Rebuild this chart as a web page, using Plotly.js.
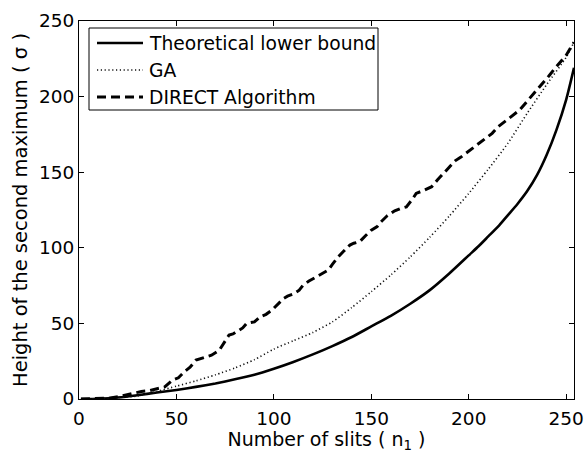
<!DOCTYPE html>
<html>
<head>
<meta charset="utf-8">
<script src="https://cdn.plot.ly/plotly-3.0.1.min.js"></script>
<style>html,body{margin:0;padding:0;background:#fff;}#chart{width:587px;height:453px;}</style>
</head>
<body>
<div id="chart"></div>
<script>
// Theoretical lower bound
const boundX = [1,10,20,30,40,50,60,70,80,90,100,110,120,130,140,150,160,170,180,190,200,205,210,215,220,225,230,235,240,245,250,254];
const boundY = [0,0.2,1,2.5,4.3,6,8,10.3,13,16,20,24.5,29.5,35,41,48,55,63,72,83,95,101,107.5,114,121.5,129,137.5,148,161.5,178,198,219];

// GA
const gaX = [1,10,20,30,40,50,60,70,80,90,100,110,120,130,140,150,160,170,180,190,200,210,220,230,240,250,254];
const gaY = [0,0.3,1,2,5,8.5,12,16,20.5,26,33,38.5,44,51,60.5,71,82,94,107,121,136,152,169,189,208,226,236];

// DIRECT Algorithm
const directX = [1,15,22,27,32,36,41,44,48,51,54,57,60,63,65,68,72,75,77,79,81,84,86,90,93,96,99,102,105,107,110,113,115,118,122,125,128,130,133,136,139,141,144,147,150,153,155,158,162,165,168,171,173,177,181,184,187,190,193,196,198,201,205,209,212,215,219,222,226,229,232,235,238,241,244,247,250,254];
const directY = [0,0.5,2,3.5,5,5.5,7,8,12.5,14,18,21,25.7,27,28,29,32.3,38,42.3,43,44.5,47,50,51,54.4,56,58.8,63,66.5,68,69.5,72,75.3,78,80.8,83,85.3,89,94,98,101.8,103,104,108,111.7,114,117.2,121,124.5,126,127.1,132,136,138,140.4,145,149.2,153,157.5,160,162,164.5,169,172.5,175.7,180,184,187,191,195.5,199.9,204,208.7,213.5,218.3,222.5,227.4,236];

const xTicks = [0,50,100,150,200,250];
const yTicks = [0,50,100,150,200,250];
const seriesNames = ['Theoretical lower bound', 'GA', 'DIRECT Algorithm'];

const FONT = 'DejaVu Sans, Arial, sans-serif';
const W = 587, H = 453;
const M = {l: 79, r: 13, t: 21, b: 54};
const PW = W - M.l - M.r, PH = H - M.t - M.b;
const px2x = p => (p - M.l) / PW;
const py2y = p => (H - M.b - p) / PH;

const styles = [
  {color: '#000', width: 2.6},
  {color: '#111', width: 1.6, dash: '1.2px,2.6px'},
  {color: '#000', width: 3, dash: '9px,5px'}
];

const traces = [
  {x: boundX, y: boundY, name: seriesNames[0], mode: 'lines',
   line: Object.assign({shape: 'spline', smoothing: 0.6}, styles[0])},
  {x: gaX, y: gaY, name: seriesNames[1], mode: 'lines',
   line: Object.assign({shape: 'spline', smoothing: 0.6}, styles[1])},
  {x: directX, y: directY, name: seriesNames[2], mode: 'lines',
   line: Object.assign({}, styles[2])}
];

// Legend drawn as a box with sample lines and labels
const shapes = [{type: 'rect', xref: 'paper', yref: 'paper',
  x0: px2x(89), x1: px2x(378), y0: py2y(110), y1: py2y(28),
  line: {color: '#000', width: 1}, fillcolor: '#fff', layer: 'above'}];
const annotations = [];
const rowsPx = [43, 70, 97];
seriesNames.forEach((n, i) => {
  shapes.push({type: 'line', xref: 'paper', yref: 'paper',
    x0: px2x(97), x1: px2x(143), y0: py2y(rowsPx[i]), y1: py2y(rowsPx[i]),
    line: Object.assign({}, styles[i]), layer: 'above'});
  annotations.push({xref: 'paper', yref: 'paper', x: px2x(147), y: py2y(rowsPx[i]),
    xanchor: 'left', yanchor: 'middle', showarrow: false, text: n,
    font: {family: FONT, size: 18.7, color: '#000'}});
});

const axisCommon = {
  showline: true, linecolor: '#000', linewidth: 1, mirror: 'allticks',
  ticks: 'inside', ticklen: 5, tickcolor: '#000', tickwidth: 1,
  showgrid: false, zeroline: false,
  tickfont: {family: FONT, size: 18.5, color: '#000'}
};

const layout = {
  width: W, height: H,
  margin: M,
  paper_bgcolor: '#fff', plot_bgcolor: '#fff',
  showlegend: false,
  shapes: shapes,
  annotations: annotations,
  xaxis: Object.assign({}, axisCommon, {
    range: [0, 254], tickvals: xTicks, ticktext: xTicks.map(String),
    ticklabelstandoff: 3,
    title: {text: 'Number of slits ( n<sub>1</sub> )', font: {family: FONT, size: 19, color: '#000'}, standoff: 5}
  }),
  yaxis: Object.assign({}, axisCommon, {
    range: [0, 250], tickvals: yTicks, ticktext: yTicks.map(String),
    title: {text: 'Height of the second maximum ( σ )', font: {family: FONT, size: 19.5, color: '#000'}, standoff: 6}
  })
};

Plotly.newPlot('chart', traces, layout, {displayModeBar: false, staticPlot: true});
</script>
</body>
</html>
